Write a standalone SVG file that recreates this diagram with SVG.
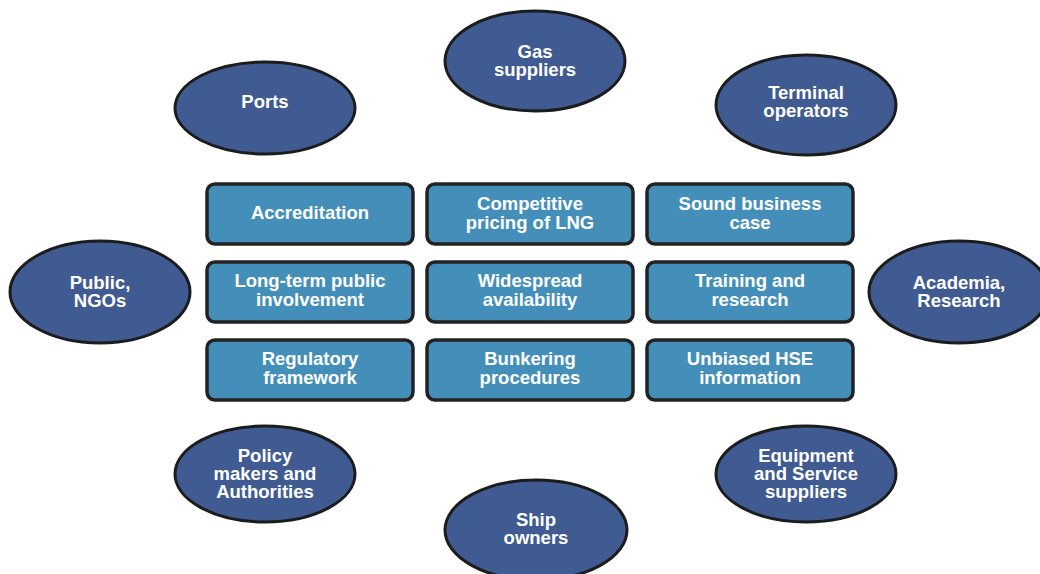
<svg xmlns="http://www.w3.org/2000/svg" width="1040" height="574" viewBox="0 0 1040 574">
  <style>
    .stake ellipse { fill: #3f5b91; stroke: #1c1c1c; stroke-width: 3; }
    .factor rect { fill: #448fb9; stroke: #222222; stroke-width: 3.5; }
    text { font-family: "Liberation Sans", Arial, sans-serif; font-weight: bold; font-size: 18.5px; fill: #ffffff; text-anchor: middle; }
  </style>
  <rect width="1040" height="574" fill="#ffffff"/>

  <!-- stakeholder ellipses -->
  <g id="gas-suppliers" class="stake">
    <ellipse cx="535" cy="61" rx="90" ry="50"/>
    <text x="535" y="58">Gas</text>
    <text x="535" y="76">suppliers</text>
  </g>
  <g id="ports" class="stake">
    <ellipse cx="265" cy="108" rx="90" ry="46"/>
    <text x="265" y="108">Ports</text>
  </g>
  <g id="terminal-operators" class="stake">
    <ellipse cx="806" cy="105" rx="90" ry="50"/>
    <text x="806" y="99">Terminal</text>
    <text x="806" y="117">operators</text>
  </g>
  <g id="public-ngos" class="stake">
    <ellipse cx="100" cy="292" rx="90" ry="51"/>
    <text x="100" y="289">Public,</text>
    <text x="100" y="307">NGOs</text>
  </g>
  <g id="academia-research" class="stake">
    <ellipse cx="959" cy="292" rx="90" ry="51"/>
    <text x="959" y="289">Academia,</text>
    <text x="959" y="307">Research</text>
  </g>
  <g id="policy-makers" class="stake">
    <ellipse cx="265" cy="474" rx="90" ry="48"/>
    <text x="265" y="462">Policy</text>
    <text x="265" y="480">makers and</text>
    <text x="265" y="498">Authorities</text>
  </g>
  <g id="equipment-suppliers" class="stake">
    <ellipse cx="806" cy="474" rx="90" ry="48"/>
    <text x="806" y="462">Equipment</text>
    <text x="806" y="480">and Service</text>
    <text x="806" y="498">suppliers</text>
  </g>
  <g id="ship-owners" class="stake">
    <ellipse cx="536" cy="530" rx="91" ry="50"/>
    <text x="536" y="526">Ship</text>
    <text x="536" y="544">owners</text>
  </g>

  <!-- success factor boxes -->
  <g id="accreditation" class="factor">
    <rect x="207" y="184" width="206" height="60" rx="8"/>
    <text x="310" y="219">Accreditation</text>
  </g>
  <g id="competitive-pricing" class="factor">
    <rect x="427" y="184" width="206" height="60" rx="8"/>
    <text x="530" y="210">Competitive</text>
    <text x="530" y="229">pricing of LNG</text>
  </g>
  <g id="business-case" class="factor">
    <rect x="647" y="184" width="206" height="60" rx="8"/>
    <text x="750" y="210">Sound business</text>
    <text x="750" y="229">case</text>
  </g>
  <g id="public-involvement" class="factor">
    <rect x="207" y="262" width="206" height="60" rx="8"/>
    <text x="310" y="287">Long-term public</text>
    <text x="310" y="306">involvement</text>
  </g>
  <g id="availability" class="factor">
    <rect x="427" y="262" width="206" height="60" rx="8"/>
    <text x="530" y="287">Widespread</text>
    <text x="530" y="306">availability</text>
  </g>
  <g id="training" class="factor">
    <rect x="647" y="262" width="206" height="60" rx="8"/>
    <text x="750" y="287">Training and</text>
    <text x="750" y="306">research</text>
  </g>
  <g id="regulatory" class="factor">
    <rect x="207" y="340" width="206" height="60" rx="8"/>
    <text x="310" y="365">Regulatory</text>
    <text x="310" y="384">framework</text>
  </g>
  <g id="bunkering" class="factor">
    <rect x="427" y="340" width="206" height="60" rx="8"/>
    <text x="530" y="365">Bunkering</text>
    <text x="530" y="384">procedures</text>
  </g>
  <g id="hse-info" class="factor">
    <rect x="647" y="340" width="206" height="60" rx="8"/>
    <text x="750" y="365">Unbiased HSE</text>
    <text x="750" y="384">information</text>
  </g>

  <!-- no connectors are drawn between the nodes -->
  <g id="connectors"/>
</svg>
